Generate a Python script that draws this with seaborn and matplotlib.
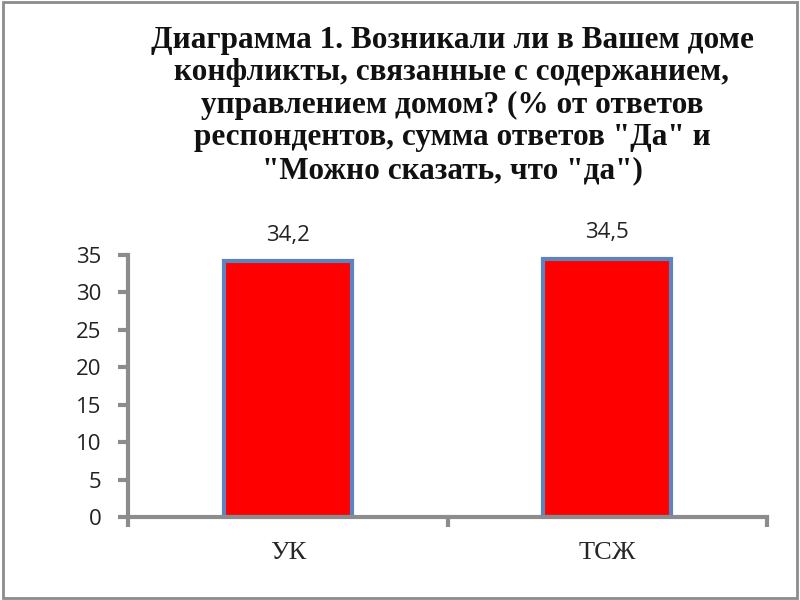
import pandas as pd
import seaborn as sns
import matplotlib.pyplot as plt
from matplotlib.patches import Rectangle

categories = ['УК', 'ТСЖ']
values = [34.2, 34.5]
value_labels = ['34,2', '34,5']

title = ('Диаграмма 1. Возникали ли в Вашем доме\n'
         'конфликты, связанные с содержанием,\n'
         'управлением домом? (% от ответов\n'
         'респондентов, сумма ответов "Да" и\n'
         '"Можно сказать, что "да")')

df = pd.DataFrame({'cat': categories, 'val': values})

sns.set_style('white')
plt.rcParams['font.family'] = ['DejaVu Sans']

grey = '#8c8c8c'

fig = plt.figure(figsize=(8, 6), dpi=100)
ax = fig.add_axes([0.16, 0.138, 0.799, 0.437])

sns.barplot(data=df, x='cat', y='val', ax=ax, color='#ff0000', width=0.4,
            edgecolor='#5b84c0', linewidth=3, saturation=1)

for c, lab in zip(ax.containers, [value_labels]):
    ax.bar_label(c, labels=lab, padding=11, fontsize=16, color='#222222',
                 family='Open Sans')

ax.set_xlim(-0.5, 1.5)
ax.set_ylim(0, 35)
ax.set_yticks(range(0, 36, 5))
ax.set_xticks([-0.5, 0.5, 1.5])
ax.set_xticklabels([])
ax.set_xticks([0, 1], minor=True)
ax.set_xticklabels(categories, minor=True, family='Liberation Serif',
                   fontsize=19)
ax.tick_params(axis='x', which='minor', bottom=True, length=0, pad=18)
ax.tick_params(axis='x', which='major', bottom=True, length=7, width=3,
               color=grey, direction='out')
ax.tick_params(axis='y', left=True, length=7, width=3, color=grey,
               direction='out', labelsize=16, pad=12)
for t in ax.get_yticklabels():
    t.set_family('Open Sans')
    t.set_color('#222222')
ax.set_xlabel('')
ax.set_ylabel('')

for s in ['top', 'right']:
    ax.spines[s].set_visible(False)
for s in ['left', 'bottom']:
    ax.spines[s].set_color(grey)
    ax.spines[s].set_linewidth(3)

fig.text(0.565, 0.957, title, ha='center', va='top', fontsize=22.5,
         fontweight='bold', family='Liberation Serif', linespacing=1.16,
         color='#111111')

fig.patches.append(Rectangle((0.004, 0.004), 0.992, 0.992,
                             transform=fig.transFigure, fill=False,
                             edgecolor=grey, linewidth=2))

fig.savefig('out.png', dpi=100)
